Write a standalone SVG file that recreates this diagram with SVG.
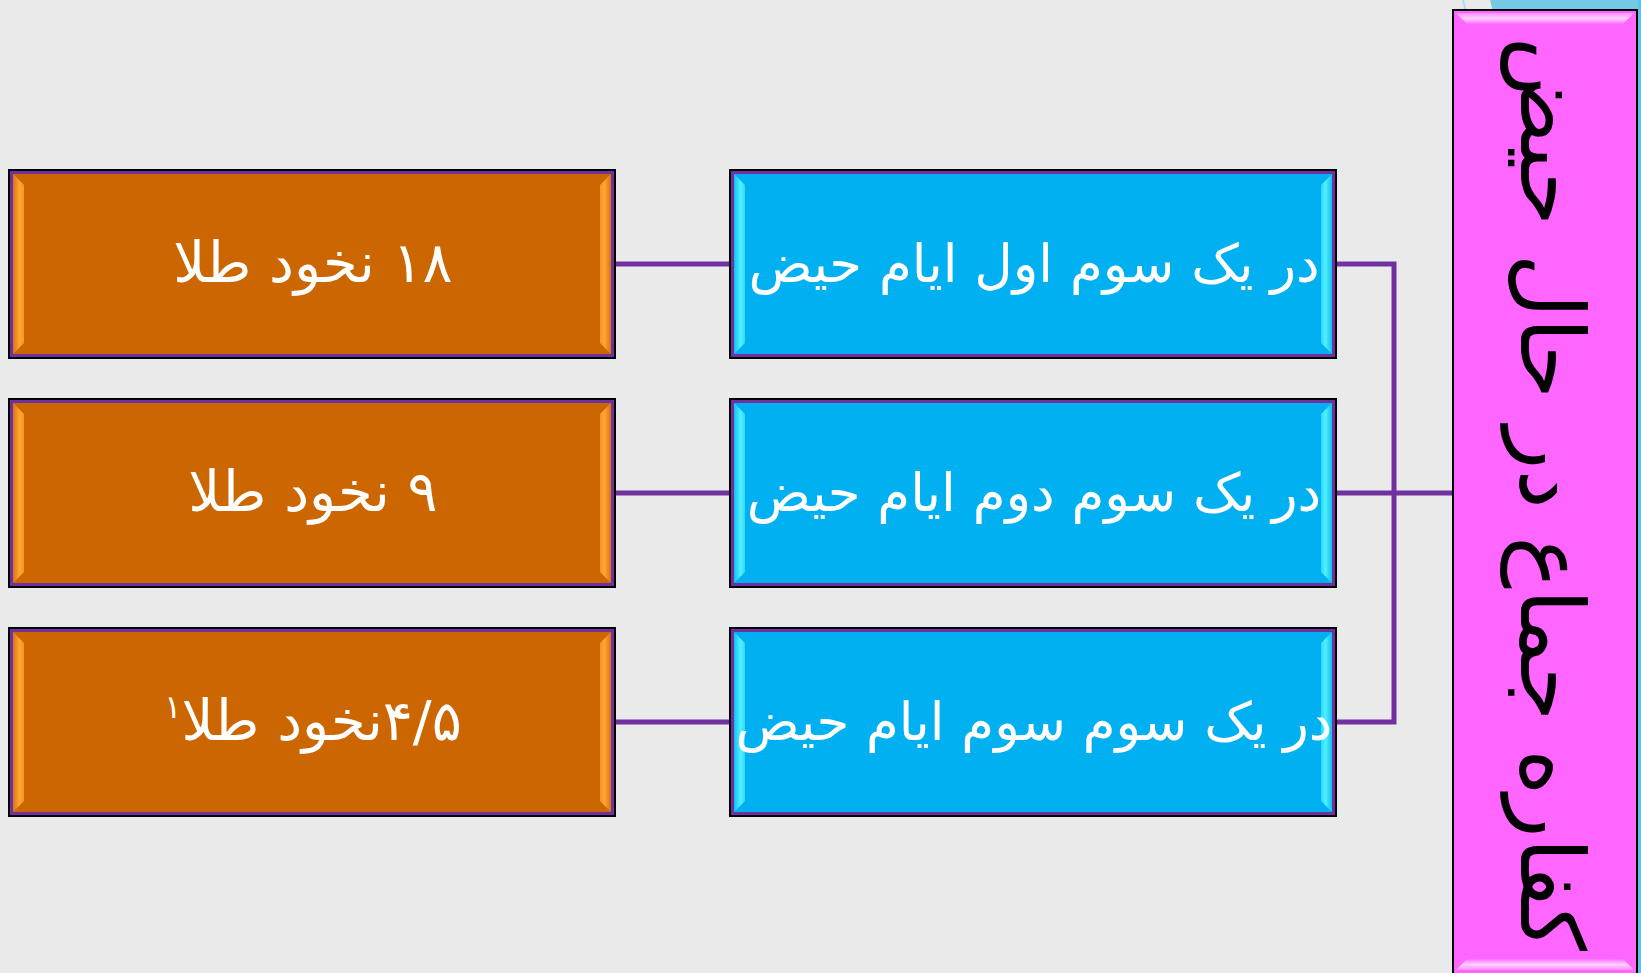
<svg xmlns="http://www.w3.org/2000/svg" width="1641" height="973" viewBox="0 0 1641 973">
<defs>
<style>
.t{font-family:"DejaVu Sans",sans-serif;fill:#fff;text-anchor:middle;direction:rtl}
.go{font-size:56px}
.bl{font-size:53px}
.conn{fill:none;stroke:#7030a0;stroke-width:5}
.outer{stroke:#000;stroke-width:2}
.inner{fill:none;stroke:#7030a0;stroke-width:3}
</style>
<linearGradient id="oL" x1="0" y1="0" x2="1" y2="0"><stop offset="0" stop-color="#d9760f"/><stop offset="0.6" stop-color="#ffa630"/><stop offset="1" stop-color="#f59528"/></linearGradient>
<linearGradient id="oR" x1="1" y1="0" x2="0" y2="0"><stop offset="0" stop-color="#d9760f"/><stop offset="0.6" stop-color="#ffa630"/><stop offset="1" stop-color="#f59528"/></linearGradient>
<linearGradient id="bL" x1="0" y1="0" x2="1" y2="0"><stop offset="0" stop-color="#10c0f0"/><stop offset="0.6" stop-color="#50f0ff"/><stop offset="1" stop-color="#30d8f8"/></linearGradient>
<linearGradient id="bR" x1="1" y1="0" x2="0" y2="0"><stop offset="0" stop-color="#10c0f0"/><stop offset="0.6" stop-color="#50f0ff"/><stop offset="1" stop-color="#30d8f8"/></linearGradient>
<linearGradient id="pT" x1="0" y1="0" x2="0" y2="1"><stop offset="0" stop-color="#ff8cff"/><stop offset="0.5" stop-color="#ffd0ff"/><stop offset="1" stop-color="#ff70ff"/></linearGradient>
<linearGradient id="pB" x1="0" y1="1" x2="0" y2="0"><stop offset="0" stop-color="#ff8cff"/><stop offset="0.5" stop-color="#ffd0ff"/><stop offset="1" stop-color="#ff70ff"/></linearGradient>
</defs>
<rect width="1641" height="973" fill="#eaeaea"/>
<g id="backdrop">
<path d="M1490 0 L1641 0 L1641 973 L1637 973 L1637 12 L1493 12 Z" fill="#74c9e5"/>
<path d="M1463 0 L1466 12" stroke="#a8dcee" stroke-width="2"/>
<rect x="1638" y="0" width="3" height="973" fill="#5cc4e4"/>
</g>
<g id="connectors">
<line class="conn" x1="615" y1="264" x2="729" y2="264"/>
<line class="conn" x1="615" y1="493" x2="729" y2="493"/>
<line class="conn" x1="615" y1="722" x2="729" y2="722"/>
<path class="conn" d="M1336 264 H1394 V722 H1336"/>
<line class="conn" x1="1336" y1="493" x2="1452" y2="493"/>
</g>
<g id="gold1">
<rect class="outer" x="9" y="170" width="606" height="188" fill="#cc6600"/>
<rect class="inner" x="11.5" y="172.5" width="601" height="183"/>
<polygon points="13,174 24,185 24,343 13,354" fill="url(#oL)"/>
<polygon points="611,174 600,185 600,343 611,354" fill="url(#oR)"/>
<text class="t go" x="313" y="282">۱۸ نخود طلا</text>
</g>
<g id="gold2">
<rect class="outer" x="9" y="399" width="606" height="188" fill="#cc6600"/>
<rect class="inner" x="11.5" y="401.5" width="601" height="183"/>
<polygon points="13,403 24,414 24,572 13,583" fill="url(#oL)"/>
<polygon points="611,403 600,414 600,572 611,583" fill="url(#oR)"/>
<text class="t go" x="313" y="511">۹ نخود طلا</text>
</g>
<g id="gold3">
<rect class="outer" x="9" y="628" width="606" height="188" fill="#cc6600"/>
<rect class="inner" x="11.5" y="630.5" width="601" height="183"/>
<polygon points="13,632 24,643 24,801 13,812" fill="url(#oL)"/>
<polygon points="611,632 600,643 600,801 611,812" fill="url(#oR)"/>
<text class="t go" x="313" y="740">۴/۵نخود طلا<tspan font-size="32" dy="-22">۱</tspan></text>
</g>
<g id="third1">
<rect class="outer" x="730" y="170" width="606" height="188" fill="#00b0f0"/>
<rect class="inner" x="732.5" y="172.5" width="601" height="183"/>
<polygon points="734,174 745,185 745,343 734,354" fill="url(#bL)"/>
<polygon points="1332,174 1321,185 1321,343 1332,354" fill="url(#bR)"/>
<text class="t bl" x="1034" y="282">در یک سوم اول ایام حیض</text>
</g>
<g id="third2">
<rect class="outer" x="730" y="399" width="606" height="188" fill="#00b0f0"/>
<rect class="inner" x="732.5" y="401.5" width="601" height="183"/>
<polygon points="734,403 745,414 745,572 734,583" fill="url(#bL)"/>
<polygon points="1332,403 1321,414 1321,572 1332,583" fill="url(#bR)"/>
<text class="t bl" x="1034" y="511">در یک سوم دوم ایام حیض</text>
</g>
<g id="third3">
<rect class="outer" x="730" y="628" width="606" height="188" fill="#00b0f0"/>
<rect class="inner" x="732.5" y="630.5" width="601" height="183"/>
<polygon points="734,632 745,643 745,801 734,812" fill="url(#bL)"/>
<polygon points="1332,632 1321,643 1321,801 1332,812" fill="url(#bR)"/>
<text class="t bl" x="1034" y="740">در یک سوم سوم ایام حیض</text>
</g>
<g id="title">
<rect x="1453" y="10" width="184" height="975" fill="#ff66ff" stroke="#000" stroke-width="2"/>
<polygon points="1456,13 1634,13 1623,24 1467,24" fill="url(#pT)"/>
<polygon points="1456,970 1634,970 1623,959 1467,959" fill="url(#pB)"/>
<text transform="translate(1521,494) rotate(90)" x="0" y="0" font-size="88" style="font-family:'DejaVu Sans',sans-serif;fill:#000;text-anchor:middle;direction:rtl">کفاره جماع در حال حیض</text>
</g>
</svg>
